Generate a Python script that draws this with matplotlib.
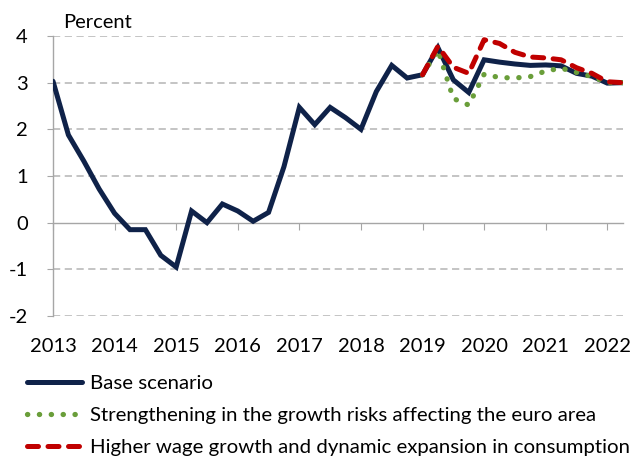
import numpy as np
import matplotlib
matplotlib.use("Agg")
import matplotlib.pyplot as plt

plt.rcParams['font.family'] = ['Lato', 'DejaVu Sans']

# quarterly data, 2013Q1 - 2022Q2
quarters = 2013 + np.arange(38) / 4.0
base = [3.03, 1.88, 1.32, 0.72, 0.20, -0.15, -0.15, -0.70, -0.95,
        0.25, 0.00, 0.40, 0.25, 0.03, 0.22, 1.20,
        2.47, 2.10, 2.47, 2.25, 2.00, 2.81, 3.37, 3.10,
        3.17, 3.75, 3.06, 2.79, 3.49, 3.44, 3.40, 3.37,
        3.38, 3.36, 3.20, 3.14, 2.99, 3.00]

scen_quarters = quarters[24:]
growth_risks = [3.17, 3.70, 2.66, 2.52, 3.18, 3.11, 3.10, 3.13,
                3.25, 3.31, 3.22, 3.13, 3.00, 3.00]
wage_growth = [3.17, 3.78, 3.33, 3.20, 3.92, 3.84, 3.65, 3.55,
               3.53, 3.49, 3.32, 3.20, 3.02, 3.00]

years = list(range(2013, 2023))
labels = ["Base scenario",
          "Strengthening in the growth risks affecting the euro area",
          "Higher wage growth and dynamic expansion in consumption"]

navy = "#0f2249"
green = "#6a9e3a"
red = "#c00000"
grey = "#a6a6a6"

fig = plt.figure(figsize=(6.33, 4.57), dpi=100)
ax = fig.add_axes([53 / 633, 1 - 316 / 457, 569.7 / 633, 280 / 457])

# gridlines
for v in [4, 3, 2, 1, -1, -2]:
    ax.axhline(v, color="#bfbfbf", lw=1.3, ls=(0, (4, 2.5)), zorder=1)

l1, = ax.plot(quarters, base, color=navy, lw=3.6, solid_capstyle='round',
              solid_joinstyle='miter', zorder=3)
l2, = ax.plot(scen_quarters, growth_risks, color=green, lw=3.8,
              ls=(0, (0.05, 2.2)), dash_capstyle='round', zorder=4)
l3, = ax.plot(scen_quarters, wage_growth, color=red, lw=3.6,
              ls=(0, (2.2, 1.9)), dash_capstyle='round', zorder=5)

ax.set_xlim(2013, 2022.25)
ax.set_ylim(-2, 4)
ax.set_yticks([-2, -1, 0, 1, 2, 3, 4])
ax.set_yticklabels(["-2", "-1", "0", "1", "2", "3", "4"])
ax.set_xticks(years)
ax.set_xticklabels([str(y) for y in years])

for s in ["top", "right"]:
    ax.spines[s].set_visible(False)
ax.spines["left"].set_color(grey)
ax.spines["bottom"].set_color(grey)
ax.spines["bottom"].set_position(("data", 0))
ax.spines["left"].set_linewidth(1.0)
ax.spines["bottom"].set_linewidth(1.0)

ax.tick_params(axis="y", direction="out", length=4, color=grey, pad=14,
               labelsize=14.5, labelcolor="black")
ax.tick_params(axis="x", direction="out", length=5, color=grey, pad=78,
               labelsize=14.5, labelcolor="black")

fig.text(63 / 633, 1 - 28 / 457, "Percent", fontsize=14.5, va="baseline")

fig.legend([l1, l2, l3], labels, loc="upper left",
           bbox_to_anchor=(27 / 633, 1 - 375 / 457), frameon=False,
           fontsize=14.7, handlelength=2.7, handletextpad=0.39,
           labelspacing=0.72, borderaxespad=0, borderpad=0)

fig.savefig("out.png", dpi=100)
